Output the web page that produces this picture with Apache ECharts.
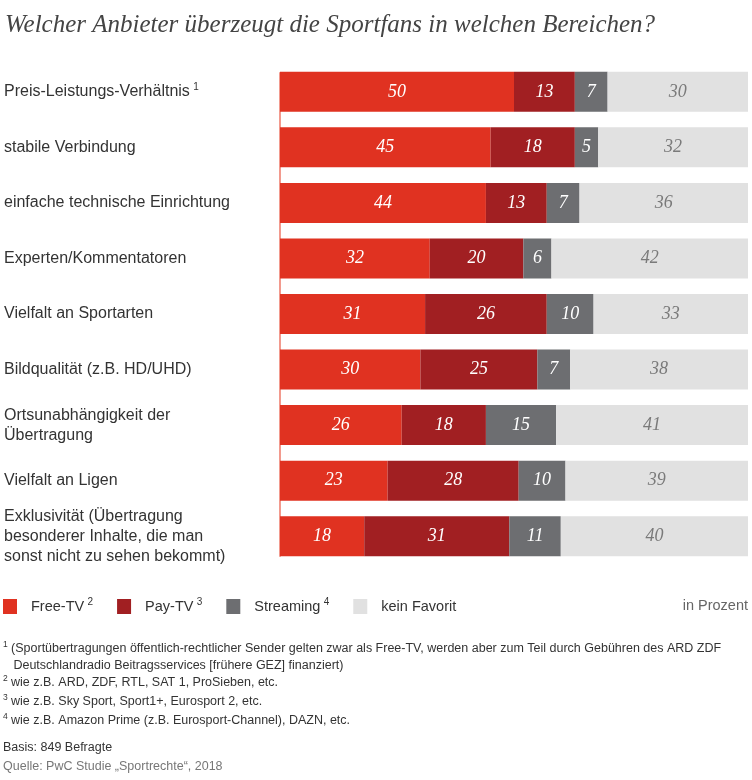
<!DOCTYPE html>
<html>
<head>
    <meta charset="utf-8">
    <title>Sportrechte</title>
    <script src="https://cdn.jsdelivr.net/npm/echarts@6/dist/echarts.min.js"></script>
    <style>
        html, body { margin: 0; padding: 0; background: #fff; }
        #chart1 { width: 752px; height: 780px; }
    </style>
</head>
<body>
<div id="chart1"></div>
<script type="text/javascript">
    // Kategorien (von oben nach unten)
    var categories = [
        'Preis-Leistungs-Verhältnis',
        'stabile Verbindung',
        'einfache technische Einrichtung',
        'Experten/Kommentatoren',
        'Vielfalt an Sportarten',
        'Bildqualität (z.B. HD/UHD)',
        'Ortsunabhängigkeit der\nÜbertragung',
        'Vielfalt an Ligen',
        'Exklusivität (Übertragung\nbesonderer Inhalte, die man\nsonst nicht zu sehen bekommt)'
    ];
    var catNotes = ['1', '', '', '', '', '', '', '', ''];

    // Werte in Prozent
    var freeTv     = [50, 45, 44, 32, 31, 30, 26, 23, 18];
    var payTv      = [13, 18, 13, 20, 26, 25, 18, 28, 31];
    var streaming  = [7, 5, 7, 6, 10, 7, 15, 10, 11];
    var keinFavorit = [30, 32, 36, 42, 33, 38, 41, 39, 40];

    var seriesNames = ['Free-TV', 'Pay-TV', 'Streaming', 'kein Favorit'];
    var seriesNotes = ['2', '3', '4', ''];
    var seriesColors = ['#e03221', '#a11f22', '#6d6e71', '#e1e1e1'];
    var labelColors = ['#fff', '#fff', '#fff', '#7a7a7a'];

    var sans = "'Liberation Sans', Arial, sans-serif";
    var serif = "Georgia, 'Liberation Serif', serif";

    var myChart1 = echarts.init(document.getElementById('chart1'));

    var allData = [freeTv, payTv, streaming, keinFavorit];
    var series = allData.map(function (d, i) {
        return {
            name: seriesNames[i],
            type: 'bar',
            stack: 'total',
            barWidth: 40,
            data: d,
            itemStyle: { color: seriesColors[i] },
            label: {
                show: true,
                position: 'inside',
                color: labelColors[i],
                fontFamily: serif,
                fontStyle: 'italic',
                fontSize: 18
            },
            emphasis: { disabled: true }
        };
    });

    myChart1.setOption({
        animation: false,
        textStyle: { fontFamily: sans },
        title: {
            text: 'Welcher Anbieter überzeugt die Sportfans in welchen Bereichen?',
            left: 0,
            top: 8,
            textStyle: {
                fontFamily: serif,
                fontStyle: 'italic',
                fontWeight: 'normal',
                fontSize: 25,
                color: '#444'
            }
        },
        legend: {
            data: seriesNames,
            left: 3,
            top: 597,
            padding: 0,
            icon: 'rect',
            itemWidth: 14,
            itemHeight: 15,
            itemGap: 24,
            selectedMode: false,
            formatter: function (name) {
                var n = seriesNotes[seriesNames.indexOf(name)];
                return '{t|' + name + '}' + (n ? ' {s|' + n + '}' : '');
            },
            textStyle: {
                padding: [0, 0, 0, 9],
                rich: {
                    t: { fontSize: 14.5, color: '#333', fontFamily: sans },
                    s: { fontSize: 10, color: '#333', fontFamily: sans, padding: [0, 0, 9, 0] }
                }
            }
        },
        grid: [
            { left: 280, right: 4, top: 64, bottom: 216 },
            // nur für die senkrechte Linie (Balkenoberkante bis -unterkante)
            { left: 280, right: 4, top: 73, bottom: 224 }
        ],
        xAxis: [
            { type: 'value', min: 0, max: 100, show: false },
            { type: 'value', gridIndex: 1, min: 0, max: 100, show: false }
        ],
        yAxis: [
            {
                type: 'category',
                inverse: true,
                data: categories,
                axisLine: { show: false },
                axisTick: { show: false },
                axisLabel: {
                    align: 'left',
                    margin: 276,
                    formatter: function (value) {
                        var n = catNotes[categories.indexOf(value)];
                        return '{n|' + value + '}' + (n ? ' {s|' + n + '}' : '');
                    },
                    rich: {
                        n: { fontSize: 16, lineHeight: 20, color: '#333', fontFamily: sans },
                        s: { fontSize: 10, color: '#333', fontFamily: sans, padding: [0, 0, 9, 0] }
                    }
                }
            },
            {
                type: 'value',
                gridIndex: 1,
                min: 0,
                max: 1,
                axisLine: { show: true, lineStyle: { color: '#f29a8e', width: 2 } },
                axisTick: { show: false },
                axisLabel: { show: false },
                splitLine: { show: false }
            }
        ],
        graphic: [
            {
                type: 'text', right: 4, top: 598,
                style: { text: 'in Prozent', fontSize: 14.5, fontFamily: sans, fill: '#666' }
            },
            {
                type: 'text', left: 3, top: 640,
                style: {
                    text: '{s|1} {t|(Sportübertragungen öffentlich-rechtlicher Sender gelten zwar als Free-TV, werden aber zum Teil durch Gebühren des ARD ZDF}\n{t|   Deutschlandradio Beitragsservices [frühere GEZ] finanziert)}',
                    rich: {
                        t: { fontSize: 12.5, lineHeight: 17, fill: '#333', fontFamily: sans },
                        s: { fontSize: 8.5, fill: '#333', fontFamily: sans, padding: [0, 0, 8, 0] }
                    }
                }
            },
            {
                type: 'text', left: 3, top: 674,
                style: {
                    text: '{s|2} {t|wie z.B. ARD, ZDF, RTL, SAT 1, ProSieben, etc.}\n{s|3} {t|wie z.B. Sky Sport, Sport1+, Eurosport 2, etc.}\n{s|4} {t|wie z.B. Amazon Prime (z.B. Eurosport-Channel), DAZN, etc.}',
                    rich: {
                        t: { fontSize: 12.5, lineHeight: 19, fill: '#333', fontFamily: sans },
                        s: { fontSize: 8.5, fill: '#333', fontFamily: sans, padding: [0, 0, 8, 0] }
                    }
                }
            },
            {
                type: 'text', left: 3, top: 741,
                style: { text: 'Basis: 849 Befragte', fontSize: 12.5, fontFamily: sans, fill: '#333' }
            },
            {
                type: 'text', left: 3, top: 760,
                style: { text: 'Quelle: PwC Studie „Sportrechte“, 2018', fontSize: 12.5, fontFamily: sans, fill: '#777' }
            }
        ],
        series: series
    });
</script>
</body>
</html>
